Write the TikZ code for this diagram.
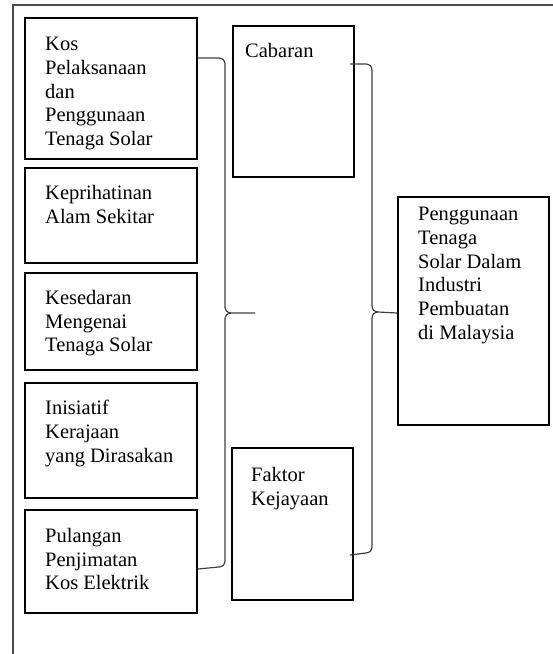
\documentclass[tikz,border=0pt]{standalone}
\usepackage{fontspec}
\setmainfont{Liberation Serif}
\usetikzlibrary{calc}
\begin{document}
\begin{tikzpicture}[x=1pt,y=1pt,
  box/.style={draw=black,line width=2pt,rectangle,inner sep=0pt,anchor=north west},
  txt/.style={anchor=north west,inner sep=0pt,align=left,font=\fontsize{20.5}{23.7}\selectfont},
  brace/.style={draw=black!75,line width=1.2pt},
  frame/.style={draw=black!70,line width=1.5pt}]
\useasboundingbox (0,0) rectangle (553,654);
% outer frame
\draw[frame] (13,0) -- (13,649) -- (553,649);
% left boxes
\node[box,minimum width=172pt,minimum height=141pt] (b1) at (24,637) {};
\node[box,minimum width=172pt,minimum height=95pt] (b2) at (24,487) {};
\node[box,minimum width=172pt,minimum height=97pt] (b3) at (24,382) {};
\node[box,minimum width=172pt,minimum height=115pt] (b4) at (24,272) {};
\node[box,minimum width=172pt,minimum height=103pt] (b5) at (24,145) {};
% middle boxes
\node[box,minimum width=121pt,minimum height=151pt] (cab) at (232,629) {};
\node[box,minimum width=121pt,minimum height=152pt] (fak) at (231,207) {};
% right box
\node[box,minimum width=151pt,minimum height=228pt] (res) at (397,458) {};
% texts
\node[txt] (t1) at (45,617) {Kos\\Pelaksanaan\\dan\\Penggunaan\\Tenaga Solar};
\node[txt] (t2) at (45,469) {Keprihatinan\\Alam Sekitar};
\node[txt] (t3) at (45,364) {Kesedaran\\Mengenai\\Tenaga Solar};
\node[txt] (t4) at (45,254) {Inisiatif\\Kerajaan\\yang Dirasakan};
\node[txt] (t5) at (45,126) {Pulangan\\Penjimatan\\Kos Elektrik};
\node[txt] (tc) at (245,611) {Cabaran};
\node[txt] (tf) at (251,187) {Faktor\\Kejayaan};
\node[txt] (tr) at (418,447) {Penggunaan\\Tenaga\\Solar Dalam\\Industri\\Pembuatan\\di Malaysia};
% left brace
\coordinate (a1) at ($(b1.north east)+(0,-41)$);
\coordinate (a5) at ($(b5.south east)+(0,45)$);
\coordinate (tipL) at (255,341);
\draw[brace] (a1) -- (219,596) to[out=0,in=90] (225,590) -- (225,347) to[out=-90,in=180] (231,341) -- (tipL);
\draw[brace] (a5) -- (219,87) to[out=0,in=-90] (225,93) -- (225,335) to[out=90,in=180] (231,341);
% right brace
\coordinate (c1) at ($(cab.north east)+(-5,-39)$);
\coordinate (c2) at ($(fak.south east)+(-4,46)$);
\coordinate (tipR) at ($(res.west)+(0,-2)$);
\draw[brace] (c1) -- (366,590) to[out=0,in=90] (372,584) -- (372,348) to[out=-90,in=180] (378,342) -- (tipR);
\draw[brace] (c2) -- (366,101) to[out=0,in=-90] (372,107) -- (372,336) to[out=90,in=180] (378,342);
\end{tikzpicture}
\end{document}
